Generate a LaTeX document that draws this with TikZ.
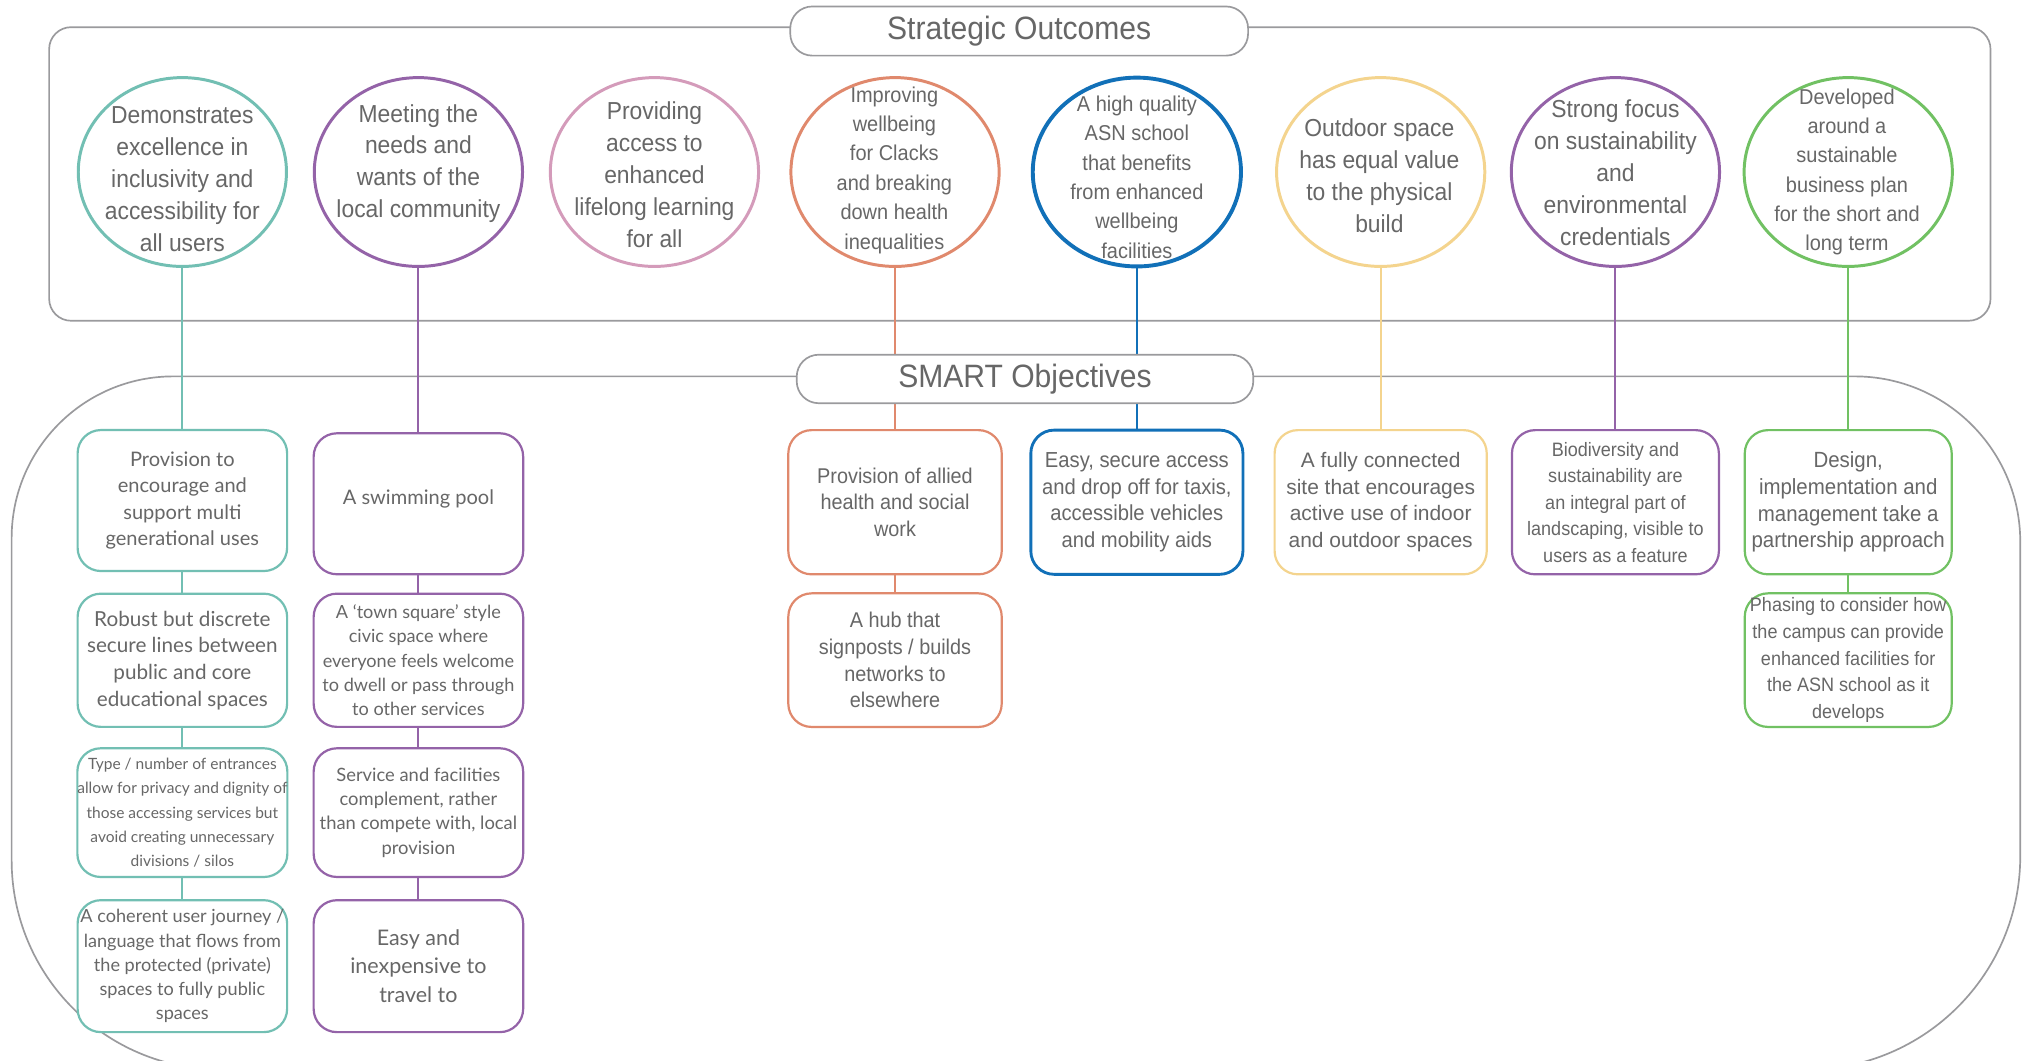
\documentclass[tikz,border=0pt]{standalone}
\usepackage{fontspec}
\setmainfont{Liberation Sans}
\newfontfamily\condfont{Liberation Sans}[FakeStretch=0.93]
\newfontfamily\widefont{Lato}
\usetikzlibrary{shapes.geometric}

\definecolor{txt}{HTML}{676767}
\definecolor{framegray}{HTML}{9A9A9D}
\definecolor{cteal}{HTML}{72BFB3}
\definecolor{cpurple}{HTML}{9463A8}
\definecolor{cpink}{HTML}{D49BBA}
\definecolor{corange}{HTML}{E0896D}
\definecolor{cblue}{HTML}{1170B8}
\definecolor{cyellow}{HTML}{F4D48E}
\definecolor{cgreen}{HTML}{71C163}

\newcommand{\condsz}[2]{\condfont\fontsize{#1}{#2}\selectfont}
\newcommand{\widesz}[2]{\widefont\fontsize{#1}{#2}\selectfont}
\newcommand{\plainsz}[2]{\fontsize{#1}{#2}\selectfont}

\pgfdeclarelayer{bg}
\pgfdeclarelayer{wires}
\pgfsetlayers{bg,wires,main}

\tikzset{
  outcome/.style={ellipse, draw=#1, line width=2.3pt, fill=white,
    minimum width=161pt, minimum height=146pt, inner sep=0pt},
  otext/.style={align=center, text=txt, inner sep=0pt, font={\condsz{19}{24.7}}},
  otextsm/.style={otext, font={\condsz{16.6}{22.7}}},
  objbox/.style n args={3}{draw=#1, rounded corners=18pt, line width=1.7pt,
    fill=white, minimum width=#2, minimum height=#3, inner sep=0pt,
    align=center, text=txt},
  wire/.style={draw=#1, line width=1.5pt},
  outline/.style={draw=framegray, line width=1.3pt},
  pill/.style={draw=framegray, line width=1.3pt, fill=white, rounded corners=17pt,
    minimum width=354pt, minimum height=38pt, inner sep=0pt, text=txt,
    font={\condsz{25}{30}}}
}

\begin{document}
\begin{tikzpicture}[x=1pt, y=-1pt]
\useasboundingbox (0,0) rectangle (1568,820);
\clip (0,0) rectangle (1568,820);

% ---------- strategic outcomes ----------
\node[outcome=cteal]   (o1) at (141,133)   {};
\node[outcome=cpurple] (o2) at (323.5,133) {};
\node[outcome=cpink]   (o3) at (506,133)   {};
\node[outcome=corange] (o4) at (692,133)   {};
\node[outcome=cblue, line width=3pt] (o5) at (879,133) {};
\node[outcome=cyellow] (o6) at (1067.5,133) {};
\node[outcome=cpurple] (o7) at (1249,133)  {};
\node[outcome=cgreen]  (o8) at (1429,133)  {};

\node[otext] (o1t) at (141,138.5) {Demonstrates\\excellence in\\inclusivity and\\accessibility for\\all users};
\node[otext] (o2t) at (323.5,126.5) {Meeting the\\needs and\\wants of the\\local community};
\node[otext] (o3t) at (506,135) {Providing\\access to\\enhanced\\lifelong learning\\for all};
\node[otextsm] (o4t) at (691.5,131.5) {Improving\\wellbeing\\for Clacks\\and breaking\\down health\\inequalities};
\node[otextsm] (o5t) at (879,137) {A high quality\\ASN school\\that benefits\\from enhanced\\wellbeing\\facilities};
\node[otext] (o6t) at (1066.5,136) {Outdoor space\\has equal value\\to the physical\\build};
\node[otext] (o7t) at (1249,133.5) {Strong focus\\on sustainability\\and\\environmental\\credentials};
\node[otextsm] (o8t) at (1428,133) {Developed\\around a\\sustainable\\business plan\\for the short and\\long term};

% ---------- section titles ----------
\node[pill] (so) at (788,24) {Strategic Outcomes};
\node[pill, minimum height=37.5pt, minimum width=353pt] (sm) at (792.5,293) {SMART Objectives};

% ---------- SMART objectives ----------
% teal column
\node[objbox={cteal}{162pt}{109pt}, font={\widesz{15.5}{20.6}}] (b11) at (141,387)
  {Provision to\\encourage and\\support multi\\generational uses};
\node[objbox={cteal}{162pt}{103pt}, font={\widesz{16}{20.6}}] (b12) at (141,510.5)
  {Robust but discrete\\secure lines between\\public and core\\educational spaces};
\node[objbox={cteal}{162pt}{99.5pt}, font={\widesz{12}{18.7}}] (b13) at (141,628.3)
  {Type / number of entrances\\allow for privacy and dignity of\\those accessing services but\\avoid creating unnecessary\\divisions / silos};
\node[objbox={cteal}{162pt}{102pt}, font={\widesz{14}{18.7}}] (b14) at (141,747)
  {A coherent user journey /\\language that flows from\\the protected (private)\\spaces to fully public\\spaces};

% purple column
\node[objbox={cpurple}{162pt}{109pt}, font={\widesz{15.5}{20.6}}] (b21) at (323.5,389.5)
  {\raisebox{3.5pt}[\height][\depth]{A swimming pool}};
\node[objbox={cpurple}{162pt}{103pt}, font={\widesz{14}{18.7}}] (b22) at (323.5,510.5)
  {A ‘town square’ style\\civic space where\\everyone feels welcome\\to dwell or pass through\\to other services};
\node[objbox={cpurple}{162pt}{99.5pt}, font={\widesz{14.2}{18.7}}] (b23) at (323.5,628.3)
  {Service and facilities\\complement, rather\\than compete with, local\\provision};
\node[objbox={cpurple}{162pt}{102pt}, font={\widesz{16.6}{22}}] (b24) at (323.5,747)
  {Easy and\\inexpensive to\\travel to};

% orange column
\node[objbox={corange}{165pt}{111.5pt}, font={\condsz{16.5}{20.6}}] (b41) at (692,388.3)
  {Provision of allied\\health and social\\work};
\node[objbox={corange}{165pt}{103.3pt}, font={\condsz{16.5}{20.6}}] (b42) at (692,510.4)
  {A hub that\\signposts / builds\\networks to\\elsewhere};

% blue
\node[objbox={cblue}{164pt}{111.5pt}, line width=2.2pt, font={\condsz{16.8}{20.6}}] (b51) at (879,388.3)
  {Easy, secure access\\and drop off for taxis,\\accessible vehicles\\and mobility aids};

% yellow
\node[objbox={cyellow}{164pt}{111.5pt}, font={\plainsz{16.2}{20.6}}] (b61) at (1067.5,388.3)
  {A fully connected\\site that encourages\\active use of indoor\\and outdoor spaces};

% purple (second)
\node[objbox={cpurple}{160pt}{111.5pt}, font={\condsz{15}{20.5}}] (b71) at (1249,388.3)
  {Biodiversity and\\sustainability are\\an integral part of\\landscaping, visible to\\users as a feature};

% green column
\node[objbox={cgreen}{160pt}{111.5pt}, font={\condsz{17}{20.6}}] (b81) at (1429,388.3)
  {Design,\\implementation and\\management take a\\partnership approach};
\node[objbox={cgreen}{160pt}{103.3pt}, font={\condsz{15}{20.6}}] (b82) at (1429,510.4)
  {Phasing to consider how\\the campus can provide\\enhanced facilities for\\the ASN school as it\\develops};

% ---------- frames ----------
\begin{pgfonlayer}{bg}
  \fill[white] (0,0) rectangle (1568,820);
  \draw[outline, rounded corners=17pt] (38,21) rectangle (1539,248);
  \draw[outline] (9,665) -- (9,416)
    .. controls (9,347) and (65,291) .. (134,291)
    -- (1434,291)
    .. controls (1504.7,291) and (1562,348.3) .. (1562,419)
    -- (1562,662)
    .. controls (1562,753) and (1488,827) .. (1397,827)
    -- (171,827)
    .. controls (81.5,827) and (9,754.5) .. (9,665) -- cycle;
\end{pgfonlayer}

% ---------- connectors ----------
\begin{pgfonlayer}{wires}
  \draw[wire=cteal] (o1.south) -- (b11.north);
  \draw[wire=cteal] (b11.south) -- (b12.north);
  \draw[wire=cteal] (b12.south) -- (b13.north);
  \draw[wire=cteal] (b13.south) -- (b14.north);
  \draw[wire=cpurple] (o2.south) -- (b21.north);
  \draw[wire=cpurple] (b21.south) -- (b22.north);
  \draw[wire=cpurple] (b22.south) -- (b23.north);
  \draw[wire=cpurple] (b23.south) -- (b24.north);
  \draw[wire=corange] (o4.south) -- (b41.north);
  \draw[wire=corange] (b41.south) -- (b42.north);
  \draw[wire=cblue] (o5.south) -- (b51.north);
  \draw[wire=cyellow] (o6.south) -- (b61.north);
  \draw[wire=cpurple] (o7.south) -- (b71.north);
  \draw[wire=cgreen] (o8.south) -- (b81.north);
  \draw[wire=cgreen] (b81.south) -- (b82.north);
\end{pgfonlayer}
\end{tikzpicture}
\end{document}
